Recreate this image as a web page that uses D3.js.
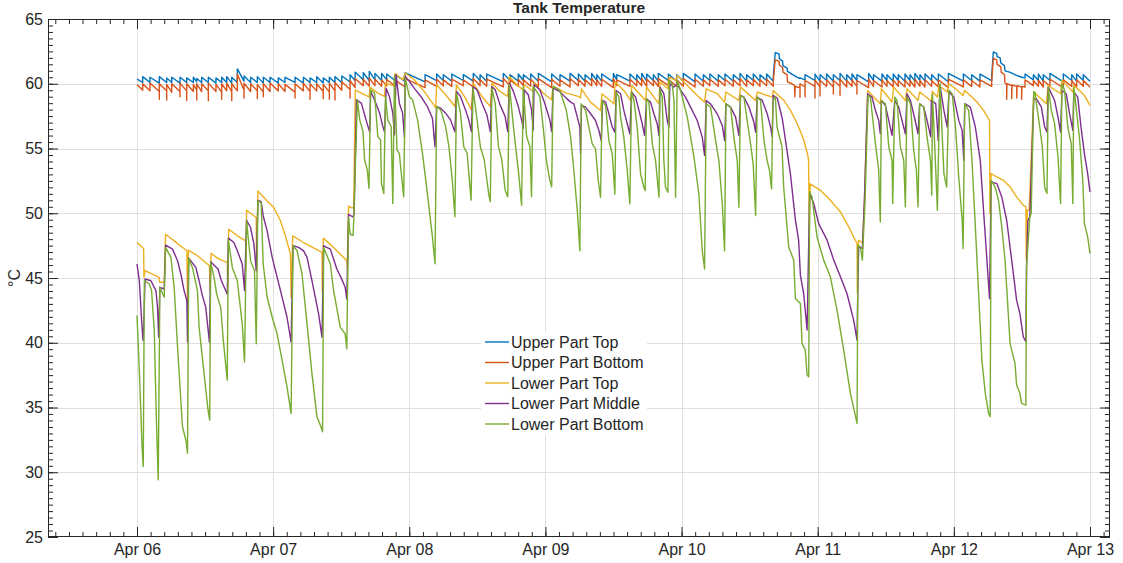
<!DOCTYPE html>
<html>
<head>
<meta charset="utf-8">
<script src="https://cdn.jsdelivr.net/npm/d3@7"></script>
<style>
  body { margin: 0; background: #fff; }
  svg { display: block; }
  text { font-family: "Liberation Sans", Arial, Helvetica, sans-serif; fill: #262626; }
</style>
</head>
<body>
<svg id="chart" width="1123" height="563"></svg>
<script>
// ---------- labels ----------
const chartTitle = "Tank Temperature";
const yLabel = "°C";
const seriesNames = ["Upper Part Top", "Upper Part Bottom", "Lower Part Top", "Lower Part Middle", "Lower Part Bottom"];
const seriesColors = ["#0072BD", "#D95319", "#EDB120", "#7E2F8E", "#77AC30"];
const dayTicks = [0, 1, 2, 3, 4, 5, 6, 7];          // days after Apr 06 00:00
const yTicks = [25, 30, 35, 40, 45, 50, 55, 60, 65];

// ---------- upper tank: heater cycles (time in days after Apr 06 00:00) ----------
const heatTimes = [
  0, 0.042, 0.095, 0.164, 0.218, 0.255, 0.316, 0.365, 0.414, 0.439,
  0.475, 0.524, 0.580, 0.622, 0.659, 0.696, 0.737, 0.786, 0.835, 0.884,
  0.928, 0.977, 1.038, 1.087, 1.161, 1.222, 1.271, 1.320, 1.368, 1.413,
  1.454, 1.504, 1.565, 1.602, 1.662, 1.706, 1.748, 1.797, 1.834, 1.895,
  1.969, 2.116, 2.201, 2.250, 2.312, 2.397, 2.470, 2.520, 2.569, 2.691,
  2.740, 2.801, 2.838, 2.892, 2.948, 3.046, 3.107, 3.181, 3.242, 3.291,
  3.340, 3.377, 3.413, 3.499, 3.524, 3.621, 3.671, 3.707, 3.744, 3.793,
  3.829, 3.903, 3.964, 4.013, 4.099, 4.160, 4.208, 4.270, 4.319, 4.380,
  4.429, 4.478, 4.527, 4.576, 4.625, 4.674, 4.870, 4.907, 4.980, 5.017,
  5.066, 5.115, 5.164, 5.213, 5.252, 5.288, 5.374, 5.410, 5.472, 5.509,
  5.555, 5.592, 5.641, 5.678, 5.714, 5.751, 5.788, 5.837, 5.886, 5.960,
  6.070, 6.131, 6.192, 6.278, 6.523, 6.584, 6.621, 6.657, 6.706, 6.804,
  6.866, 6.902, 6.951
];
// Upper Part Top: value right after each heat start, and value just before the next one
const upperTopPeak = [
  60.35, 60.55, 60.5, 60.55, 60.45, 60.5, 60.5, 60.45, 60.5, 60.4,
  60.5, 60.5, 60.45, 60.5, 60.55, 60.5, 61.15, 60.6, 60.5, 60.55,
  60.5, 60.5, 60.45, 60.5, 60.5, 60.5, 60.45, 60.55, 60.45, 60.5,
  60.55, 60.6, 60.7, 60.9, 60.85, 60.95, 60.8, 60.8, 60.75, 60.7,
  60.85, 60.7, 60.75, 60.7, 60.75, 60.7, 60.8, 60.7, 60.75, 60.8,
  60.7, 60.75, 60.7, 60.75, 60.8, 60.75, 60.7, 60.8, 60.75, 60.7,
  60.8, 60.7, 60.75, 60.8, 60.7, 60.75, 60.7, 60.8, 60.75, 60.7,
  60.8, 60.75, 60.7, 60.8, 60.75, 60.7, 60.75, 60.7, 60.75, 60.7,
  60.8, 60.7, 60.75, 60.7, 60.75, 60.6, 60.45, 60.7, 60.75, 60.7,
  60.75, 60.7, 60.8, 60.7, 60.75, 60.7, 60.8, 60.7, 60.75, 60.7,
  60.75, 60.7, 60.75, 60.7, 60.8, 60.7, 60.75, 60.7, 60.75, 60.8,
  60.75, 60.7, 60.75, 60.6, 60.75, 60.7, 60.75, 60.7, 60.8, 60.75,
  60.7, 60.75, 60.7
];
const upperTopEnd = [
  60.1, 60.1, 60.05, 60.1, 60.1, 60.05, 60.1, 60.1, 60.15, 60.1,
  60.1, 60.05, 60.1, 60.1, 60.05, 60.1, 60.2, 60.1, 60.1, 60.05,
  60.1, 60.05, 60.1, 60.1, 60.05, 60.1, 60.1, 60.05, 60.1, 60.1,
  60.1, 60.15, 60.25, 60.3, 60.25, 60.3, 60.25, 60.3, 60.25, 60.2,
  60.15, 60.25, 60.25, 60.2, 60.25, 60.2, 60.25, 60.2, 60.15, 60.25,
  60.2, 60.25, 60.25, 60.2, 60.15, 60.2, 60.2, 60.25, 60.2, 60.25,
  60.25, 60.2, 60.15, 60.3, 60.2, 60.25, 60.25, 60.2, 60.25, 60.2,
  60.25, 60.2, 60.2, 60.15, 60.2, 60.25, 60.2, 60.25, 60.2, 60.25,
  60.2, 60.25, 60.2, 60.25, 60.2, 60.4, 60.3, 60.25, 60.2, 60.25,
  60.2, 60.25, 60.2, 60.25, 60.25, 60.15, 60.25, 60.2, 60.25, 60.2,
  60.25, 60.2, 60.25, 60.2, 60.25, 60.2, 60.25, 60.2, 60.15, 60.2,
  60.25, 60.2, 60.25, 60.45, 60.3, 60.25, 60.2, 60.25, 60.15, 60.25,
  60.2, 60.25, 60.2
];
// Upper Part Bottom
const upperBottomPeak = [
  59.95, 60.0, 60.05, 60.0, 59.95, 60.0, 60.05, 60.0, 59.95, 60.0,
  60.0, 60.05, 59.95, 60.0, 60.05, 60.0, 60.75, 60.05, 60.0, 59.95,
  60.0, 60.05, 60.0, 59.95, 60.0, 60.05, 60.0, 60.0, 59.95, 60.05,
  60.1, 60.15, 60.25, 60.4, 60.35, 60.45, 60.35, 60.3, 60.35, 60.3,
  60.4, 60.3, 60.35, 60.3, 60.35, 60.3, 60.4, 60.3, 60.35, 60.4,
  60.3, 60.35, 60.3, 60.35, 60.4, 60.35, 60.3, 60.4, 60.35, 60.3,
  60.4, 60.3, 60.35, 60.4, 60.3, 60.35, 60.3, 60.4, 60.35, 60.3,
  60.4, 60.35, 60.3, 60.4, 60.35, 60.3, 60.35, 60.3, 60.35, 60.3,
  60.4, 60.3, 60.35, 60.3, 60.35, 60.2, 60.0, 60.25, 60.3, 60.25,
  60.3, 60.25, 60.35, 60.25, 60.3, 60.25, 60.35, 60.25, 60.3, 60.25,
  60.3, 60.25, 60.3, 60.25, 60.35, 60.25, 60.3, 60.25, 60.3, 60.35,
  60.3, 60.25, 60.3, 60.2, 60.3, 60.25, 60.3, 60.25, 60.35, 60.3,
  60.25, 60.3, 60.25
];
const upperBottomEnd = [
  59.5, 59.45, 59.4, 59.45, 59.35, 59.4, 59.45, 59.4, 59.5, 59.4,
  59.45, 59.4, 59.35, 59.45, 59.4, 59.45, 59.5, 59.4, 59.45, 59.35,
  59.4, 59.45, 59.4, 59.35, 59.45, 59.4, 59.45, 59.4, 59.35, 59.45,
  59.5, 59.55, 59.7, 59.85, 59.8, 59.85, 59.8, 59.85, 59.8, 59.75,
  59.7, 59.8, 59.85, 59.8, 59.85, 59.75, 59.85, 59.8, 59.75, 59.85,
  59.8, 59.85, 59.8, 59.75, 59.7, 59.8, 59.75, 59.85, 59.8, 59.85,
  59.85, 59.8, 59.7, 59.85, 59.8, 59.85, 59.85, 59.8, 59.85, 59.8,
  59.85, 59.8, 59.8, 59.75, 59.8, 59.85, 59.8, 59.85, 59.8, 59.85,
  59.8, 59.85, 59.8, 59.85, 59.8, 59.7, 59.75, 59.8, 59.75, 59.8,
  59.75, 59.8, 59.75, 59.8, 59.8, 59.7, 59.8, 59.75, 59.8, 59.75,
  59.8, 59.75, 59.8, 59.75, 59.8, 59.75, 59.8, 59.75, 59.7, 59.75,
  59.8, 59.75, 59.8, 59.75, 59.85, 59.8, 59.75, 59.8, 59.7, 59.8,
  59.75, 59.8, 59.75
];
// short draw-off dips of Upper Part Bottom, at the start of a heater cycle
const upperBottomDips = [
  [0.164, 58.8], [0.218, 58.75], [0.316, 59.0], [0.365, 58.7], [0.439, 58.75], [0.524, 58.7],
  [0.622, 58.8], [0.696, 58.7], [0.786, 58.9], [0.884, 58.85], [0.928, 59.0], [1.161, 58.9],
  [1.271, 58.8], [1.368, 58.85], [1.413, 58.8], [1.454, 58.75], [1.565, 58.9],
  [4.870, 58.95], [4.907, 59.0], [4.980, 58.9], [5.017, 59.05], [5.115, 59.2], [5.164, 59.1], [5.288, 59.2]
];
// the two long overheating cycles
const upperTopSurge = [
  [4.688, 62.4], [4.716, 62.3], [4.718, 61.95], [4.742, 61.75], [4.745, 61.4], [4.775, 61.2],
  [4.778, 60.95], [4.81, 60.75], [4.84, 60.55],
  [6.29, 62.45], [6.315, 62.35], [6.318, 62.1], [6.34, 62.0], [6.345, 61.6], [6.372, 61.4],
  [6.376, 61.0], [6.41, 60.9], [6.46, 60.65], [6.5, 60.5]
];
const upperBottomSurge = [
  [4.688, 61.85], [4.716, 61.75], [4.718, 61.45], [4.742, 61.25], [4.745, 60.9], [4.775, 60.7],
  [4.778, 60.15], [4.81, 60.0], [4.83, 59.85], [4.832, 59.0], [4.835, 59.8], [4.85, 59.75],
  [6.29, 61.95], [6.315, 61.85], [6.318, 61.5], [6.345, 61.3], [6.348, 60.9], [6.372, 60.7],
  [6.375, 60.1], [6.388, 59.95], [6.388, 58.8], [6.39, 60.0], [6.425, 59.85], [6.425, 58.85],
  [6.427, 59.9], [6.462, 59.8], [6.462, 58.9], [6.464, 59.85], [6.498, 59.75], [6.498, 58.8], [6.5, 59.8]
];

// ---------- lower tank: [days after Apr 06, °C] ----------
const lowerTop = [
  [0,47.74],[0.041,47.36],[0.049,47.23],[0.051,45.05],[0.059,45.56],[0.102,45.36],[0.163,45.05],[0.166,44.67],[0.2,44.67],[0.21,48.38],
  [0.273,47.87],[0.366,47.1],[0.371,43.26],[0.378,47.15],[0.444,46.72],[0.532,45.95],[0.537,44.0],[0.544,46.9],[0.602,46.46],[0.663,46.2],
  [0.668,44.3],[0.673,48.77],[0.737,48.26],[0.798,47.87],[0.8,45.56],[0.805,50.23],[0.876,49.67],[0.878,45.56],[0.888,51.72],[0.956,50.95],
  [1.005,50.44],[1.054,49.41],[1.09,48.26],[1.127,46.85],[1.132,43.5],[1.144,48.26],[1.224,47.74],[1.359,46.97],[1.361,44.0],[1.368,48.08],
  [1.444,47.36],[1.541,46.33],[1.544,45.82],[1.554,50.56],[1.573,50.44],[1.592,50.4],[1.603,59.5],[1.648,59.28],[1.697,59.02],[1.706,58.97],
  [1.711,59.74],[1.769,59.28],[1.818,59.02],[1.825,60.05],[1.886,59.84],[1.896,60.78],[1.951,60.31],[1.971,60.83],[2.036,60.31],[2.109,59.41],
  [2.189,58.24],[2.194,58.11],[2.201,59.92],[2.267,59.15],[2.335,58.24],[2.347,59.92],[2.413,58.89],[2.456,57.98],[2.468,60.05],[2.534,59.02],
  [2.595,58.24],[2.607,60.05],[2.667,59.41],[2.723,59.02],[2.735,60.57],[2.789,59.92],[2.837,59.53],[2.845,59.92],[2.91,59.41],[2.917,60.05],
  [2.983,59.28],[3.044,58.76],[3.056,59.79],[3.153,59.28],[3.185,59.2],[3.246,59.0],[3.258,58.9],[3.265,59.61],[3.331,58.58],[3.405,57.94],
  [3.415,59.23],[3.503,58.45],[3.513,60.13],[3.576,59.48],[3.625,58.71],[3.635,59.87],[3.736,58.71],[3.743,59.74],[3.834,58.45],[3.841,60.13],
  [3.9,59.61],[3.909,60.52],[3.958,60.26],[3.968,60.64],[4.017,60.13],[4.066,59.61],[4.115,59.1],[4.169,58.58],[4.181,59.61],[4.262,59.23],
  [4.316,58.58],[4.326,59.36],[4.421,58.71],[4.433,59.74],[4.544,58.71],[4.556,59.36],[4.666,58.97],[4.673,59.48],[4.752,58.71],[4.8,57.94],
  [4.85,56.91],[4.899,55.62],[4.928,54.46],[4.933,54.07],[4.938,48.4],[4.945,52.27],[5.02,51.77],[5.093,51.0],[5.167,50.1],[5.228,48.95],
  [5.264,48.17],[5.289,47.66],[5.291,43.8],[5.299,47.92],[5.331,47.71],[5.343,51.0],[5.367,59.49],[5.411,58.97],[5.46,58.46],[5.468,59.61],
  [5.546,58.59],[5.558,59.74],[5.644,58.71],[5.656,59.61],[5.737,58.71],[5.749,59.36],[5.835,58.65],[5.842,59.4],[5.879,58.97],[5.891,59.87],
  [5.951,59.36],[5.964,60.0],[6.012,59.61],[6.068,59.1],[6.078,59.49],[6.121,59.1],[6.17,58.59],[6.218,57.94],[6.262,57.17],[6.265,49.97],
  [6.274,53.06],[6.316,52.8],[6.364,52.54],[6.413,52.03],[6.461,51.26],[6.51,50.62],[6.529,50.49],[6.532,46.38],[6.539,50.23],[6.553,50.23],
  [6.587,59.36],[6.68,58.46],[6.692,59.87],[6.784,59.23],[6.794,60.26],[6.874,59.36],[6.881,59.87],[6.922,59.49],[6.959,59.1],[7.0,58.33]
];
const lowerMiddle = [
  [0,46.08],[0.017,44.79],[0.034,41.72],[0.044,40.18],[0.049,41.2],[0.059,44.92],[0.102,44.79],[0.139,44.03],[0.151,42.74],[0.159,40.44],
  [0.168,44.28],[0.2,44.15],[0.21,47.54],[0.261,47.23],[0.298,46.33],[0.322,45.31],[0.346,44.03],[0.366,43.26],[0.371,40.05],[0.38,46.54],
  [0.432,45.82],[0.456,44.79],[0.48,43.64],[0.505,42.74],[0.532,40.05],[0.541,46.26],[0.595,45.69],[0.62,44.79],[0.651,44.03],[0.663,43.77],
  [0.671,48.08],[0.712,47.74],[0.737,47.1],[0.773,46.08],[0.79,44.03],[0.805,49.46],[0.834,48.9],[0.859,47.62],[0.876,45.56],[0.888,51.0],
  [0.912,50.9],[0.927,49.79],[0.956,48.64],[0.993,46.59],[1.054,44.03],[1.102,41.97],[1.132,40.05],[1.146,47.49],[1.188,47.36],[1.224,47.1],
  [1.249,46.59],[1.285,44.79],[1.334,42.23],[1.359,40.44],[1.371,47.49],[1.42,47.23],[1.468,45.69],[1.498,45.05],[1.529,44.28],[1.541,43.38],
  [1.554,49.92],[1.573,49.79],[1.587,49.72],[1.595,49.97],[1.612,58.76],[1.648,58.5],[1.672,57.6],[1.697,56.69],[1.709,56.3],[1.716,59.41],
  [1.745,58.76],[1.782,57.73],[1.806,56.69],[1.818,56.3],[1.83,59.66],[1.854,59.02],[1.879,57.73],[1.891,56.05],[1.903,60.7],[1.927,58.5],
  [1.951,57.73],[1.964,55.92],[1.971,60.57],[2.0,60.18],[2.036,59.66],[2.085,59.02],[2.133,58.24],[2.17,57.34],[2.189,55.14],[2.201,58.24],
  [2.231,58.11],[2.267,57.73],[2.303,57.21],[2.335,56.3],[2.347,59.41],[2.376,59.02],[2.413,57.98],[2.437,57.21],[2.456,56.3],[2.468,59.79],
  [2.498,59.53],[2.534,58.5],[2.57,57.6],[2.595,56.3],[2.607,59.79],[2.631,59.53],[2.667,58.37],[2.704,57.47],[2.723,56.3],[2.735,60.05],
  [2.765,59.41],[2.801,58.24],[2.825,57.21],[2.837,56.56],[2.845,59.53],[2.874,59.15],[2.898,57.98],[2.91,56.43],[2.917,59.92],[2.959,59.53],
  [2.995,58.5],[3.032,57.21],[3.046,56.3],[3.056,59.66],[3.104,59.41],[3.153,58.89],[3.185,58.58],[3.209,58.45],[3.234,57.42],[3.253,56.65],
  [3.258,54.59],[3.265,58.32],[3.295,58.2],[3.332,57.68],[3.368,57.16],[3.393,56.39],[3.41,55.62],[3.42,58.71],[3.442,58.58],[3.466,57.68],
  [3.491,56.65],[3.51,56.26],[3.52,59.48],[3.552,59.23],[3.576,57.94],[3.601,56.91],[3.62,56.13],[3.633,59.36],[3.662,58.97],[3.687,57.94],
  [3.711,56.91],[3.728,56.01],[3.743,58.84],[3.772,58.58],[3.797,57.68],[3.821,56.91],[3.834,56.01],[3.841,59.74],[3.87,59.23],[3.895,57.16],
  [3.907,56.65],[3.914,60.0],[3.944,59.74],[3.968,60.0],[3.993,59.48],[4.029,58.97],[4.066,58.2],[4.115,57.16],[4.152,55.88],[4.169,54.46],
  [4.181,58.71],[4.213,58.45],[4.262,57.68],[4.299,56.78],[4.316,55.62],[4.326,58.45],[4.36,58.2],[4.397,57.42],[4.421,56.01],[4.433,59.1],
  [4.458,58.97],[4.495,58.2],[4.531,57.04],[4.544,56.26],[4.556,58.97],[4.593,58.71],[4.629,57.68],[4.654,56.65],[4.666,55.88],[4.673,59.1],
  [4.703,58.9],[4.74,57.3],[4.775,54.8],[4.8,53.0],[4.836,49.5],[4.86,47.9],[4.873,45.2],[4.897,43.8],[4.922,40.98],[4.941,51.52],
  [4.971,50.75],[5.007,49.2],[5.069,47.92],[5.118,46.38],[5.167,45.09],[5.215,43.8],[5.264,41.75],[5.289,40.21],[5.294,43.8],[5.301,47.4],
  [5.328,47.28],[5.343,51.0],[5.367,59.23],[5.399,58.97],[5.424,57.94],[5.448,57.17],[5.46,56.14],[5.468,58.71],[5.497,58.33],[5.522,57.17],
  [5.546,56.02],[5.566,58.71],[5.595,58.2],[5.619,57.17],[5.644,56.14],[5.656,59.23],[5.681,58.71],[5.71,57.43],[5.737,56.14],[5.749,58.46],
  [5.779,58.2],[5.803,57.17],[5.83,55.9],[5.835,58.7],[5.867,58.46],[5.879,56.66],[5.885,55.6],[5.898,59.87],[5.927,57.94],[5.951,56.66],
  [5.964,59.36],[6.0,58.97],[6.036,57.17],[6.061,56.4],[6.073,54.09],[6.08,58.46],[6.121,58.2],[6.158,56.66],[6.194,54.09],[6.218,50.23],
  [6.243,46.38],[6.262,43.42],[6.274,52.42],[6.316,52.29],[6.352,51.26],[6.388,49.46],[6.425,46.38],[6.461,43.29],[6.485,42.26],[6.51,40.46],
  [6.529,40.08],[6.534,45.86],[6.544,49.46],[6.558,49.72],[6.587,58.84],[6.607,58.84],[6.643,58.2],[6.667,56.66],[6.684,56.27],[6.694,59.74],
  [6.74,58.71],[6.765,57.43],[6.784,56.27],[6.794,59.49],[6.825,59.23],[6.85,57.69],[6.874,56.4],[6.881,59.36],[6.91,58.97],[6.934,56.66],
  [6.959,54.6],[6.983,53.06],[7.0,51.65]
];
const lowerBottom = [
  [0,42.1],[0.02,37.1],[0.037,31.97],[0.046,30.44],[0.054,44.79],[0.09,44.54],[0.107,44.03],[0.127,40.95],[0.141,34.54],[0.156,29.41],
  [0.168,44.28],[0.2,43.51],[0.21,47.36],[0.249,46.59],[0.273,44.28],[0.298,39.67],[0.334,33.51],[0.359,32.49],[0.371,31.46],[0.38,46.51],
  [0.407,45.82],[0.444,44.03],[0.456,41.21],[0.498,37.1],[0.522,34.79],[0.534,34.03],[0.541,46.21],[0.566,45.05],[0.585,43.77],[0.615,42.74],
  [0.634,40.18],[0.663,37.1],[0.671,47.97],[0.7,45.82],[0.737,44.79],[0.773,41.46],[0.79,38.51],[0.805,49.41],[0.834,46.33],[0.863,45.56],
  [0.876,39.92],[0.888,50.95],[0.912,50.82],[0.927,46.08],[0.956,43.51],[0.993,41.97],[1.029,40.69],[1.066,38.64],[1.102,36.59],[1.132,34.54],
  [1.146,47.49],[1.176,47.1],[1.212,45.31],[1.249,41.46],[1.285,37.62],[1.322,34.28],[1.351,33.51],[1.363,33.13],[1.371,47.36],[1.42,46.08],
  [1.444,44.03],[1.493,41.21],[1.529,40.69],[1.541,39.54],[1.554,49.67],[1.566,48.38],[1.587,48.29],[1.592,49.46],[1.619,58.76],[1.636,57.21],
  [1.66,56.3],[1.672,54.11],[1.692,53.33],[1.704,51.91],[1.716,59.53],[1.745,59.28],[1.769,55.92],[1.789,55.66],[1.796,52.3],[1.813,51.52],
  [1.825,59.02],[1.842,57.21],[1.867,56.69],[1.879,50.75],[1.891,60.57],[1.91,54.88],[1.927,54.63],[1.939,53.33],[1.959,51.27],[1.971,60.44],
  [2.0,59.02],[2.024,58.76],[2.061,57.21],[2.097,54.63],[2.133,51.52],[2.17,48.17],[2.189,46.1],[2.201,58.24],[2.231,57.98],[2.267,56.69],
  [2.291,55.14],[2.316,52.56],[2.335,49.72],[2.347,59.28],[2.376,57.73],[2.4,55.14],[2.425,54.63],[2.454,51.01],[2.468,59.66],[2.498,57.21],
  [2.522,55.14],[2.551,54.11],[2.583,51.52],[2.595,50.88],[2.607,59.66],[2.631,58.5],[2.655,55.14],[2.68,54.11],[2.704,51.78],[2.723,51.27],
  [2.735,59.92],[2.765,56.69],[2.789,54.37],[2.801,53.33],[2.825,50.62],[2.837,59.79],[2.862,55.92],[2.886,55.14],[2.898,51.27],[2.91,59.79],
  [2.959,59.02],[2.983,56.69],[3.007,54.11],[3.032,52.56],[3.046,52.04],[3.056,59.79],[3.104,59.53],[3.153,57.98],[3.185,55.88],[3.209,53.3],
  [3.234,50.21],[3.253,47.11],[3.263,58.45],[3.295,57.94],[3.319,56.65],[3.344,55.36],[3.368,54.97],[3.388,52.53],[3.405,51.24],[3.417,58.71],
  [3.442,58.32],[3.466,55.62],[3.491,54.59],[3.51,51.49],[3.52,59.36],[3.54,58.97],[3.552,57.42],[3.576,55.88],[3.601,53.3],[3.62,50.72],
  [3.633,59.36],[3.65,58.71],[3.674,56.65],[3.699,53.04],[3.723,52.01],[3.733,51.75],[3.743,58.84],[3.76,58.58],[3.785,55.36],[3.809,54.07],
  [3.834,51.24],[3.841,59.61],[3.858,58.97],[3.87,54.07],[3.882,52.01],[3.9,51.62],[3.909,60.26],[3.931,60.0],[3.944,58.71],[3.956,51.24],
  [3.968,60.26],[3.993,59.48],[4.042,57.42],[4.091,54.33],[4.127,51.49],[4.152,47.11],[4.169,45.7],[4.181,58.45],[4.213,58.2],[4.25,55.62],
  [4.274,54.07],[4.299,50.72],[4.316,47.11],[4.326,58.45],[4.36,58.2],[4.384,55.88],[4.409,54.07],[4.421,50.46],[4.433,59.1],[4.458,58.97],
  [4.482,57.16],[4.507,55.36],[4.526,53.81],[4.544,49.82],[4.556,58.97],[4.58,58.71],[4.605,55.62],[4.629,54.07],[4.646,53.3],[4.661,51.88],
  [4.671,58.71],[4.689,58.97],[4.701,56.66],[4.738,55.12],[4.75,52.03],[4.787,47.4],[4.824,46.38],[4.836,43.42],[4.873,43.03],[4.885,39.95],
  [4.909,39.43],[4.922,37.51],[4.934,37.38],[4.941,51.65],[4.958,51.26],[4.995,48.17],[5.044,46.38],[5.093,45.09],[5.142,42.52],[5.191,39.43],
  [5.24,36.09],[5.289,33.78],[5.296,47.53],[5.313,47.4],[5.328,46.38],[5.348,51.0],[5.37,59.1],[5.387,58.97],[5.424,55.37],[5.448,53.32],
  [5.46,49.33],[5.468,58.71],[5.497,58.46],[5.522,55.12],[5.546,54.09],[5.551,50.75],[5.566,58.97],[5.583,58.71],[5.607,55.12],[5.632,54.09],
  [5.644,50.49],[5.656,58.97],[5.681,58.46],[5.705,54.86],[5.725,53.32],[5.737,50.49],[5.749,58.46],[5.779,58.2],[5.803,55.89],[5.828,54.09],
  [5.838,51.4],[5.843,59.2],[5.859,55.37],[5.879,50.23],[5.898,60.0],[5.927,53.06],[5.947,52.03],[5.964,59.49],[5.988,59.23],[6.012,56.66],
  [6.036,52.8],[6.061,49.46],[6.068,47.28],[6.08,58.46],[6.109,57.94],[6.133,54.09],[6.158,48.95],[6.182,43.8],[6.206,38.66],[6.231,36.09],
  [6.255,34.55],[6.267,34.29],[6.274,52.54],[6.303,52.03],[6.328,51.0],[6.352,48.95],[6.376,46.38],[6.413,39.95],[6.449,38.41],[6.461,36.74],
  [6.485,36.09],[6.498,35.32],[6.529,35.19],[6.534,45.86],[6.558,49.72],[6.568,49.97],[6.587,59.36],[6.595,59.36],[6.631,56.66],[6.65,55.12],
  [6.667,52.03],[6.684,51.52],[6.694,59.74],[6.716,57.94],[6.74,56.92],[6.765,54.34],[6.784,50.75],[6.794,60.0],[6.813,59.49],[6.837,56.66],
  [6.862,55.37],[6.874,50.75],[6.881,59.74],[6.898,58.2],[6.922,55.89],[6.947,52.54],[6.959,49.2],[6.983,48.17],[7.0,46.89]
];

// ---------- build the two upper-tank series from the heater cycles ----------
function cyclePoints(peaks, ends, dips, surge) {
  const dipAt = new Map(dips);
  const pts = [];
  heatTimes.forEach((t, i) => {
    if (i > 0) pts.push([t, ends[i - 1]]);
    if (dipAt.has(t)) pts.push([t, dipAt.get(t)]);
    pts.push([t, peaks[i]]);
  });
  pts.push([7, ends[ends.length - 1]]);
  return pts.concat(surge).sort((a, b) => a[0] - b[0]);
}
const upperTop = cyclePoints(upperTopPeak, upperTopEnd, [], upperTopSurge);
const upperBottom = cyclePoints(upperBottomPeak, upperBottomEnd, upperBottomDips, upperBottomSurge);
const allSeries = [upperTop, upperBottom, lowerTop, lowerMiddle, lowerBottom];

// ---------- scales ----------
const dayMs = 864e5;
const t0 = Date.UTC(2021, 3, 6);
const toDate = d => new Date(t0 + d * dayMs);

const plot = { left: 48, right: 1110, top: 19, bottom: 537 };
const x = d3.scaleUtc().domain([toDate(-0.6537), toDate(7.147)]).range([plot.left, plot.right]);
const y = d3.scaleLinear().domain([25, 65]).range([plot.bottom, plot.top]);

const svg = d3.select("#chart");
const axisColor = "#262626";

// grid
const grid = svg.append("g").attr("stroke", "#dfdfdf").attr("stroke-width", 1);
dayTicks.forEach(d => {
  const px = Math.round(x(toDate(d))) + 0.5;
  grid.append("line").attr("x1", px).attr("x2", px).attr("y1", plot.top).attr("y2", plot.bottom);
});
yTicks.filter(v => v > 25 && v < 65).forEach(v => {
  const py = Math.round(y(v)) + 0.5;
  grid.append("line").attr("x1", plot.left).attr("x2", plot.right).attr("y1", py).attr("y2", py);
});

// data lines
svg.append("clipPath").attr("id", "plotClip").append("rect")
  .attr("x", plot.left).attr("y", plot.top)
  .attr("width", plot.right - plot.left).attr("height", plot.bottom - plot.top);
const line = d3.line().x(p => x(toDate(p[0]))).y(p => y(p[1]));
const lines = svg.append("g").attr("clip-path", "url(#plotClip)");
allSeries.forEach((pts, i) => {
  lines.append("path").datum(pts)
    .attr("d", line).attr("fill", "none")
    .attr("stroke", seriesColors[i]).attr("stroke-width", 1.4)
    .attr("stroke-linejoin", "round");
});

// axes (box with inward ticks)
const fontSize = "16px";
const minorX = d3.range(-6, 72).map(i => toDate(i / 10));
const minorY = d3.range(25, 65.01, 0.5);
const majorX = dayTicks.map(toDate);
const fmt = d3.utcFormat("%b %d");

function styleAxis(g) {
  g.select(".domain").remove();
  g.selectAll("line").attr("stroke", axisColor);
  g.selectAll("text").attr("fill", axisColor).style("font-size", fontSize);
}
svg.append("g").attr("transform", `translate(0,${plot.bottom})`)
  .call(d3.axisBottom(x).tickValues(minorX).tickSize(-5).tickFormat("")).call(styleAxis);
svg.append("g").attr("transform", `translate(0,${plot.bottom})`)
  .call(d3.axisBottom(x).tickValues(majorX).tickSize(-10).tickPadding(7).tickFormat(fmt)).call(styleAxis);
svg.append("g").attr("transform", `translate(0,${plot.top})`)
  .call(d3.axisTop(x).tickValues(minorX).tickSize(-5).tickFormat("")).call(styleAxis);
svg.append("g").attr("transform", `translate(0,${plot.top})`)
  .call(d3.axisTop(x).tickValues(majorX).tickSize(-10).tickFormat("")).call(styleAxis);
svg.append("g").attr("transform", `translate(${plot.left},0)`)
  .call(d3.axisLeft(y).tickValues(minorY).tickSize(-5).tickFormat("")).call(styleAxis);
svg.append("g").attr("transform", `translate(${plot.left},0)`)
  .call(d3.axisLeft(y).tickValues(yTicks).tickSize(-10).tickPadding(5).tickFormat(d3.format("d"))).call(styleAxis);
svg.append("g").attr("transform", `translate(${plot.right},0)`)
  .call(d3.axisRight(y).tickValues(minorY).tickSize(-5).tickFormat("")).call(styleAxis);
svg.append("g").attr("transform", `translate(${plot.right},0)`)
  .call(d3.axisRight(y).tickValues(yTicks).tickSize(-10).tickFormat("")).call(styleAxis);

svg.append("rect")
  .attr("x", plot.left + 0.5).attr("y", plot.top + 0.5)
  .attr("width", plot.right - plot.left - 1).attr("height", plot.bottom - plot.top - 1)
  .attr("fill", "none").attr("stroke", axisColor).attr("stroke-width", 1);

// title and axis label
svg.append("text").attr("x", (plot.left + plot.right) / 2).attr("y", 13)
  .attr("text-anchor", "middle").style("font-size", "15.5px").style("font-weight", "bold")
  .text(chartTitle);
svg.append("text")
  .attr("transform", `translate(14,${(plot.top + plot.bottom) / 2}) rotate(-90)`)
  .attr("text-anchor", "middle").attr("dy", "0.35em").style("font-size", "16px")
  .text(yLabel);

// legend
const legend = svg.append("g").attr("transform", "translate(481,332)");
legend.append("rect").attr("width", 166).attr("height", 103).attr("fill", "#fff");
seriesNames.forEach((name, i) => {
  const ly = 10 + i * 20.5;
  legend.append("line").attr("x1", 4).attr("x2", 28).attr("y1", ly).attr("y2", ly)
    .attr("stroke", seriesColors[i]).attr("stroke-width", 1.4);
  legend.append("text").attr("x", 30).attr("y", ly).attr("dy", "0.36em")
    .style("font-size", "16px").text(name);
});
</script>
</body>
</html>
